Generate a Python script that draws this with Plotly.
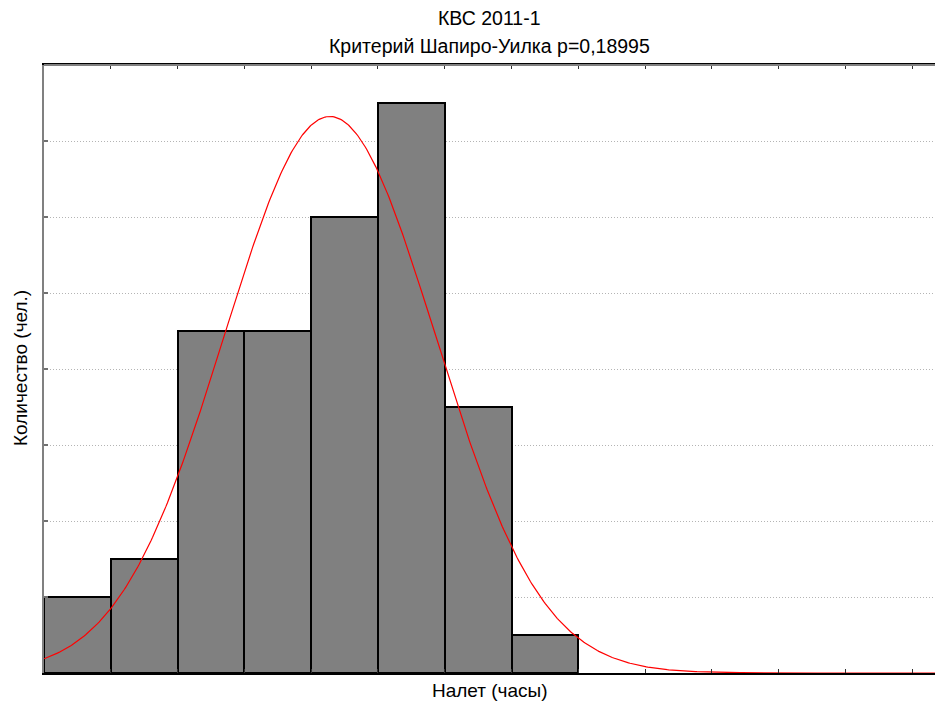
import numpy as np
import plotly.graph_objects as go

# Histogram data (bin index units)
bin_centers = [0.5, 1.5, 2.5, 3.5, 4.5, 5.5, 6.5, 7.5]
counts = [2, 3, 9, 9, 12, 15, 7, 1]

# Fitted normal curve parameters
fit_mean = 4.28
fit_sd = 1.58
n_total = sum(counts)
bin_width = 1.0

title1 = "КВС 2011-1"
title2 = "Критерий Шапиро-Уилка p=0,18995"
x_title = "Налет (часы)"
y_title = "Количество (чел.)"

X_MAX = 13.34
Y_MAX = 16

xs = np.linspace(0, X_MAX, 600)
ys = n_total * bin_width / (fit_sd * np.sqrt(2 * np.pi)) * np.exp(-0.5 * ((xs - fit_mean) / fit_sd) ** 2)

fig = go.Figure()
fig.add_trace(go.Bar(x=bin_centers, y=counts, width=1.0,
                     marker=dict(color="#808080", line=dict(color="black", width=2)),
                     showlegend=False, hoverinfo="skip"))
fig.add_trace(go.Scatter(x=xs, y=ys, mode="lines", line=dict(color="red", width=1.2),
                         showlegend=False, hoverinfo="skip"))

font = "Liberation Sans, Arial, sans-serif"
FS_T = 19.5
FS_A = 19
L, T, B, R = 44, 65, 33, 0
W, H = 935, 706
ph = H - T - B
pw = W - L - R

fig.update_layout(
    width=W, height=H,
    margin=dict(l=L, r=R, t=T, b=B, pad=0),
    paper_bgcolor="white", plot_bgcolor="white",
    bargap=0,
    font=dict(family=font, size=FS_A, color="black"),
    xaxis=dict(range=[0, X_MAX], showgrid=False, zeroline=False,
               showticklabels=False, ticks="inside", dtick=1, tick0=0,
               ticklen=4, tickcolor="#303030", tickwidth=1,
               showline=True, linecolor="black", linewidth=2, mirror="ticks"),
    yaxis=dict(range=[0, Y_MAX], showgrid=True, gridcolor="#b4b4b4", griddash="1px,2px",
               gridwidth=1, zeroline=False, showticklabels=False, ticks="inside",
               dtick=2, ticklen=4, tickcolor="#707070", tickwidth=2,
               showline=True, linecolor="#808080", linewidth=2),
    shapes=[dict(type="line", xref="paper", yref="paper", x0=0, x1=1, y0=1, y1=1,
                 line=dict(color="#808080", width=2), layer="above")],
    annotations=[
        dict(text=title1, xref="paper", yref="paper", x=0.5, y=1 + (T - 18) / ph,
             xanchor="center", yanchor="middle", showarrow=False, font=dict(size=FS_T)),
        dict(text=title2, xref="paper", yref="paper", x=0.5, y=1 + (T - 46) / ph,
             xanchor="center", yanchor="middle", showarrow=False, font=dict(size=FS_T)),
        dict(text=x_title, xref="paper", yref="paper", x=0.5, y=-(690 - (H - B)) / ph,
             xanchor="center", yanchor="middle", showarrow=False, font=dict(size=FS_A)),
        dict(text=y_title, xref="paper", yref="paper", x=(20 - L) / pw, y=(H - B - 368) / ph,
             xanchor="center", yanchor="middle", showarrow=False, textangle=-90,
             font=dict(size=FS_A)),
    ],
)

fig.write_html("out.html")
